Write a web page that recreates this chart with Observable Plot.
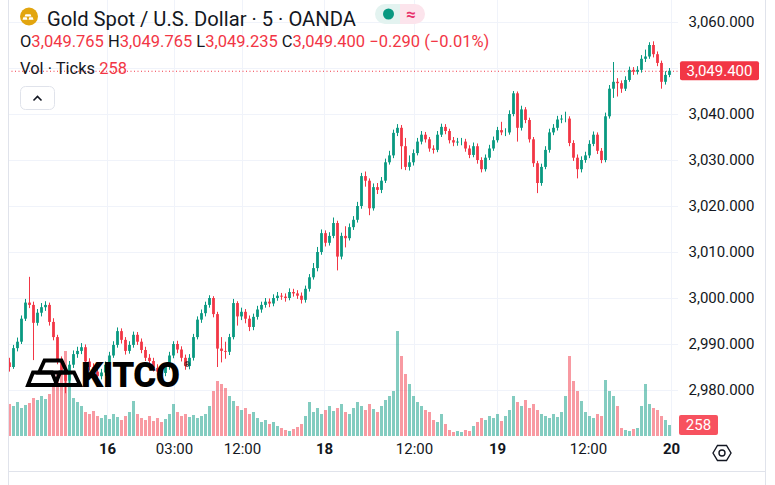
<!DOCTYPE html>
<html><head><meta charset="utf-8">
<script src="https://cdn.jsdelivr.net/npm/d3@7"></script>
<script src="https://cdn.jsdelivr.net/npm/@observablehq/plot@0.6"></script>
<style>
html,body{margin:0;padding:0;background:#fff;}
#wrap{position:relative;width:775px;height:485px;overflow:hidden;font-family:Roboto,"Open Sans",sans-serif;color:#131722;background:#fff;}
#wrap > .layer{position:absolute;left:0;top:0;width:775px;height:485px;}
#wrap svg{display:block;}
</style></head>
<body><div id="wrap"></div>
<script>
// ---- data (5-min candles aggregated, index based) ----
const firstOpen = 2986.0;
const close = [
2985.0,2989.1,2990.5,2995.5,2999.0,2998.5,2994.6,2996.8,2998.0,2998.5,
2994.8,2991.5,2986.5,2984.3,2982.0,2985.5,2987.8,2988.5,2989.3,2986.2,
2985.0,2984.0,2983.0,2983.8,2985.5,2987.5,2989.8,2992.8,2990.9,2988.5,
2989.8,2992.0,2990.5,2988.7,2987.0,2986.3,2984.8,2984.0,2983.7,2985.0,
2987.5,2990.0,2988.8,2987.0,2985.2,2987.0,2991.5,2995.3,2996.7,2998.5,
3000.0,2996.5,2989.0,2988.5,2988.3,2991.5,2998.9,2996.0,2997.0,2995.5,
2993.7,2995.9,2997.5,2998.5,2999.2,2998.8,3000.0,3000.5,3000.3,3000.0,
3001.3,3001.0,3000.5,2999.6,3002.0,3004.5,3006.5,3010.0,3014.1,3012.0,
3013.5,3016.3,3009.0,3013.5,3013.0,3015.4,3017.0,3020.0,3026.5,3025.5,
3019.5,3024.1,3023.5,3025.5,3029.5,3031.0,3035.9,3037.0,3033.0,3028.5,
3029.5,3031.5,3034.0,3035.5,3034.5,3032.5,3032.2,3035.5,3037.2,3036.3,
3034.3,3033.8,3034.0,3034.0,3032.5,3031.1,3033.0,3030.0,3028.0,3030.5,
3032.5,3034.3,3036.5,3036.0,3036.0,3040.0,3044.5,3037.0,3041.0,3038.7,
3034.5,3029.3,3025.0,3028.5,3032.2,3036.0,3037.0,3038.8,3039.0,3039.0,
3033.7,3030.5,3028.0,3030.0,3031.0,3033.5,3035.5,3032.0,3030.0,3039.5,
3045.5,3047.0,3046.7,3045.5,3047.4,3049.6,3049.2,3049.6,3052.0,3052.5,
3055.0,3053.0,3051.1,3047.0,3048.5,3049.4];
const high = [
2987.0,2989.8,2991.4,2996.2,2999.8,3004.6,2999.2,2997.6,2998.9,2999.3,
2999.0,2995.6,2992.0,2987.3,2985.0,2986.3,2988.6,2989.4,2990.2,2989.9,
2986.9,2985.8,2984.8,2984.6,2986.2,2988.3,2990.6,2993.6,2993.4,2991.5,
2990.6,2992.7,2992.6,2991.2,2989.4,2987.8,2987.0,2985.6,2984.8,2985.8,
2988.3,2990.6,2990.7,2989.5,2987.7,2987.8,2992.2,2996.0,2997.5,2999.2,
3000.6,3000.4,2997.0,2991.5,2990.5,2992.2,2999.8,2999.3,2997.9,2997.6,
2996.2,2996.6,2998.3,2999.2,3000.0,2999.9,3000.8,3001.3,3001.1,3001.0,
3002.1,3002.0,3001.7,3001.2,3002.7,3005.2,3007.6,3011.1,3014.9,3014.7,
3014.3,3017.5,3016.8,3014.2,3015.6,3016.2,3017.8,3020.9,3027.2,3027.5,
3026.0,3024.9,3025.0,3026.3,3030.3,3032.0,3036.6,3037.8,3037.6,3034.8,
3031.0,3032.3,3034.8,3036.3,3036.1,3035.0,3033.2,3036.3,3037.9,3037.8,
3036.8,3035.0,3034.8,3034.8,3034.6,3033.2,3033.8,3033.6,3030.6,3031.2,
3033.3,3035.1,3037.2,3038.3,3036.9,3040.8,3045.0,3044.9,3041.8,3041.5,
3039.2,3035.0,3029.8,3029.2,3033.0,3036.8,3037.8,3039.6,3039.8,3040.5,
3039.5,3034.3,3031.2,3030.8,3031.8,3034.3,3036.2,3036.0,3032.6,3040.3,
3046.3,3051.3,3047.8,3047.3,3048.2,3050.3,3050.2,3050.4,3052.8,3054.0,
3055.6,3055.8,3053.6,3051.6,3049.3,3050.0];
const low = [
2984.0,2984.6,2988.4,2990.0,2995.0,2997.8,2986.5,2994.0,2996.0,2997.2,
2994.0,2990.8,2985.6,2983.2,2979.3,2981.2,2984.8,2987.0,2987.8,2985.4,
2984.2,2983.2,2982.2,2982.3,2983.1,2984.9,2987.0,2989.2,2990.1,2987.7,
2987.9,2989.2,2989.8,2988.0,2986.3,2985.5,2984.0,2983.2,2982.8,2983.0,
2984.4,2986.9,2988.0,2986.2,2984.4,2984.5,2986.4,2991.0,2994.6,2996.0,
2997.9,2995.8,2985.0,2986.0,2986.8,2987.6,2991.0,2994.0,2995.2,2994.5,
2992.8,2993.0,2995.3,2996.8,2997.9,2998.0,2998.2,2999.4,2999.6,2999.2,
2999.5,3000.3,2999.8,2998.8,2999.0,3001.4,3004.0,3005.8,3009.4,3011.2,
3011.4,3013.0,3006.0,3008.4,3011.0,3012.5,3014.8,3016.4,3019.4,3024.2,
3018.0,3019.0,3022.6,3022.8,3025.0,3029.0,3030.4,3035.2,3028.0,3027.8,
3027.7,3028.8,3031.0,3033.4,3033.8,3031.8,3031.4,3031.7,3035.0,3035.6,
3033.6,3033.0,3033.1,3033.2,3031.8,3030.4,3030.6,3029.2,3027.3,3027.5,
3030.0,3032.0,3033.8,3035.4,3035.2,3035.5,3039.5,3034.0,3036.4,3038.0,
3033.8,3028.5,3022.8,3024.4,3028.0,3031.6,3035.4,3036.4,3038.0,3038.2,
3033.0,3029.8,3026.0,3027.3,3029.4,3030.4,3033.0,3031.3,3029.3,3029.5,
3039.0,3043.5,3043.8,3044.6,3045.0,3047.0,3048.5,3048.6,3049.0,3051.3,
3052.0,3052.3,3050.4,3045.5,3046.4,3048.0];
const volume = [
752,705,799,658,729,776,893,846,940,870,
987,1175,1457,1645,1998,1293,893,799,705,564,
517,588,470,423,494,400,517,447,376,470,
564,823,517,423,376,470,353,423,329,400,
517,752,564,470,517,447,494,423,470,517,
705,1058,1293,1222,1128,940,823,705,611,658,
517,564,423,329,376,282,329,235,188,141,
118,165,212,282,470,799,564,658,517,611,
705,588,658,752,564,517,658,799,705,611,
752,635,564,705,846,940,1058,2468,1880,1457,
1222,940,799,705,611,564,376,329,517,282,
141,94,118,94,141,118,235,329,423,376,
470,423,517,353,470,611,940,799,705,846,
658,752,611,517,470,423,517,447,564,940,
1880,1293,1058,823,564,470,423,517,470,1316,
1058,940,705,188,141,118,165,188,705,1222,
752,658,611,470,376,258];
const priceTicks = [2980,2990,3000,3010,3020,3030,3040,3050,3060];
const tickIdx = [24.5,41.25,58.25,78.75,101.25,122,144.75,165.5];
const tickLabels = ["16","03:00","12:00","18","12:00","19","12:00","20"];
const tickBold = [true,false,false,true,false,true,false,true];
const ohlc = {o:"3,049.765", h:"3,049.765", l:"3,049.235", c:"3,049.400", chg:"−0.290 (−0.01%)"};
const lastVolumeLabel = "258";

// ---- build ----
const UP = "#089981", DOWN = "#F23645";
const candles = close.map((c, i) => {
  const o = i === 0 ? firstOpen : close[i - 1];
  const up = c >= o;
  return {i, o, h: high[i], l: low[i], c, v: volume[i],
    col: up ? UP : DOWN,
    vcol: up ? "rgba(8,153,129,0.5)" : "rgba(242,54,69,0.5)"};
});
const lastClose = close[close.length - 1];
const lastVol = volume[volume.length - 1];
const ticks = tickIdx.map((x, k) => ({x, label: tickLabels[k], bold: tickBold[k]}));
const xDomain = [-0.25, 167.25];
const yDomain = [2970, 3060 + 22 / 4.6];
const FONT = "Roboto, 'Open Sans', sans-serif";
const base = {width: 775, height: 485, marginLeft: 8, marginRight: 97, marginTop: 0, marginBottom: 49,
  style: {background: "transparent", fontFamily: FONT, color: "#131722", overflow: "visible"},
  x: {domain: xDomain, axis: null}, color: {type: "identity"}};

const gridPlot = Plot.plot({...base, y: {domain: yDomain, axis: null}, marks: [
  Plot.gridY(priceTicks, {stroke: "#f0f3fa", strokeOpacity: 1}),
  Plot.gridX(tickIdx, {stroke: "#f0f3fa", strokeOpacity: 1})
]});
const volPlot = Plot.plot({...base, marginTop: 236, y: {domain: [0, 4700], axis: null}, marks: [
  Plot.ruleX(candles, {x: "i", y1: 0, y2: "v", stroke: "vcol", strokeWidth: 3})
]});
const pricePlot = Plot.plot({...base, y: {domain: yDomain, axis: null}, marks: [
  Plot.ruleY([lastClose], {stroke: DOWN, strokeDasharray: "1,2.5", strokeWidth: 1}),
  Plot.ruleX(candles, {x: "i", y1: "l", y2: "h", stroke: "col", strokeWidth: 1}),
  Plot.ruleX(candles, {x: "i", y1: "o", y2: "c", stroke: "col", strokeWidth: 2.8}),
  Plot.axisY(priceTicks.filter(d => Math.abs(d - lastClose) > 3), {anchor: "right", tickSize: 0, tickPadding: 10,
    tickFormat: d3.format(",.3f"), fontSize: 15, fill: "#131722", label: null}),
  Plot.text(ticks.filter(t => t.bold), {x: "x", text: "label", frameAnchor: "bottom", dy: 17, fontSize: 15, fontWeight: "bold", fill: "#131722"}),
  Plot.text(ticks.filter(t => !t.bold), {x: "x", text: "label", frameAnchor: "bottom", dy: 17, fontSize: 15, fill: "#131722"})
]});

const wrap = document.getElementById("wrap");
for (const p of [gridPlot, volPlot, pricePlot]) {
  const d = document.createElement("div"); d.className = "layer"; d.appendChild(p); wrap.appendChild(d);
}

const yPrice = pricePlot.scale("y").apply(lastClose);
const yVol = volPlot.scale("y").apply(lastVol);
const ns = "http://www.w3.org/2000/svg";
const ov = document.createElement("div"); ov.className = "layer";
ov.innerHTML = `
<svg xmlns="${ns}" width="775" height="485" style="font-family:${FONT}">
  <line x1="8.5" y1="0" x2="8.5" y2="485" stroke="#e0e3eb"/>
  <line x1="765.5" y1="0" x2="765.5" y2="485" stroke="#e0e3eb"/>
  <line x1="8" y1="471.5" x2="765" y2="471.5" stroke="#e0e3eb"/>
  <!-- header -->
  <circle cx="29" cy="16.5" r="9" fill="#E2A50F"/>
  <path d="M25.5 14.2 h5 l1 2.2 h-7 z M22.5 19.8 h5 l-0.8 -2.6 h-3.4 z M28.5 19.8 h5 l-0.8 -2.6 h-3.4 z" fill="#fff"/>
  <text x="47" y="26" font-size="20.2" fill="#131722">Gold Spot / U.S. Dollar · 5 · OANDA</text>
  <path d="M385 4 h15 v20 h-15 a10 10 0 0 1 0 -20 z" fill="#e3f3f0"/>
  <path d="M400 4 h15 a10 10 0 0 1 0 20 h-15 z" fill="#fce4ec"/>
  <circle cx="388.5" cy="14" r="5.5" fill="#089981"/>
  <text x="411" y="19.5" font-size="17" font-weight="bold" fill="#e8326b" text-anchor="middle">≈</text>
  <text x="20" y="46.5" font-size="16.5" fill="#131722">O<tspan fill="${DOWN}">${ohlc.o}</tspan> H<tspan fill="${DOWN}">${ohlc.h}</tspan> L<tspan fill="${DOWN}">${ohlc.l}</tspan> C<tspan fill="${DOWN}">${ohlc.c}</tspan> <tspan fill="${DOWN}">${ohlc.chg}</tspan></text>
  <text x="20" y="74" font-size="16.5" fill="#131722">Vol · Ticks <tspan fill="${DOWN}">${lastVolumeLabel}</tspan></text>
  <rect x="20.5" y="86.5" width="34" height="23" rx="5" fill="#fff" stroke="#e0e3eb"/>
  <polyline points="33.5,100.5 37.5,96.5 41.5,100.5" fill="none" stroke="#131722" stroke-width="1.6"/>
  <!-- price & volume labels -->
  <rect x="680" y="${yPrice - 9.5}" width="79" height="19" rx="2" fill="${DOWN}"/>
  <text x="719.5" y="${yPrice + 5.2}" font-size="15" fill="#fff" text-anchor="middle">${d3.format(",.3f")(lastClose)}</text>
  <rect x="679" y="${yVol - 10}" width="39" height="20" rx="2" fill="#F7525F"/>
  <text x="698.5" y="${yVol + 5.2}" font-size="15" fill="#fff" text-anchor="middle">${lastVolumeLabel}</text>
  <!-- settings gear -->
  <path d="M713 453 l4.5 -7.5 h9 l4.5 7.5 l-4.5 7.5 h-9 z" fill="none" stroke="#131722" stroke-width="1.4"/>
  <circle cx="722" cy="453" r="3" fill="none" stroke="#131722" stroke-width="1.4"/>
  <!-- watermark -->
  <g transform="translate(25,353)" fill="none" stroke="#000" stroke-width="3.8" stroke-linejoin="miter">
    <path d="M3 32 H32 L27 19.5 H8 Z"/>
    <path d="M30 32 H55 L49 19.5 H35 Z"/>
    <path d="M14 19.5 H42 L36.5 7.5 H19.5 Z"/>
  </g>
  <text x="81" y="386.5" font-size="35" font-weight="900" fill="#000" letter-spacing="-0.6">KITCO</text>
  <text x="184" y="367" font-size="8" fill="#000">®</text>
</svg>`;
wrap.appendChild(ov);
</script></body></html>
